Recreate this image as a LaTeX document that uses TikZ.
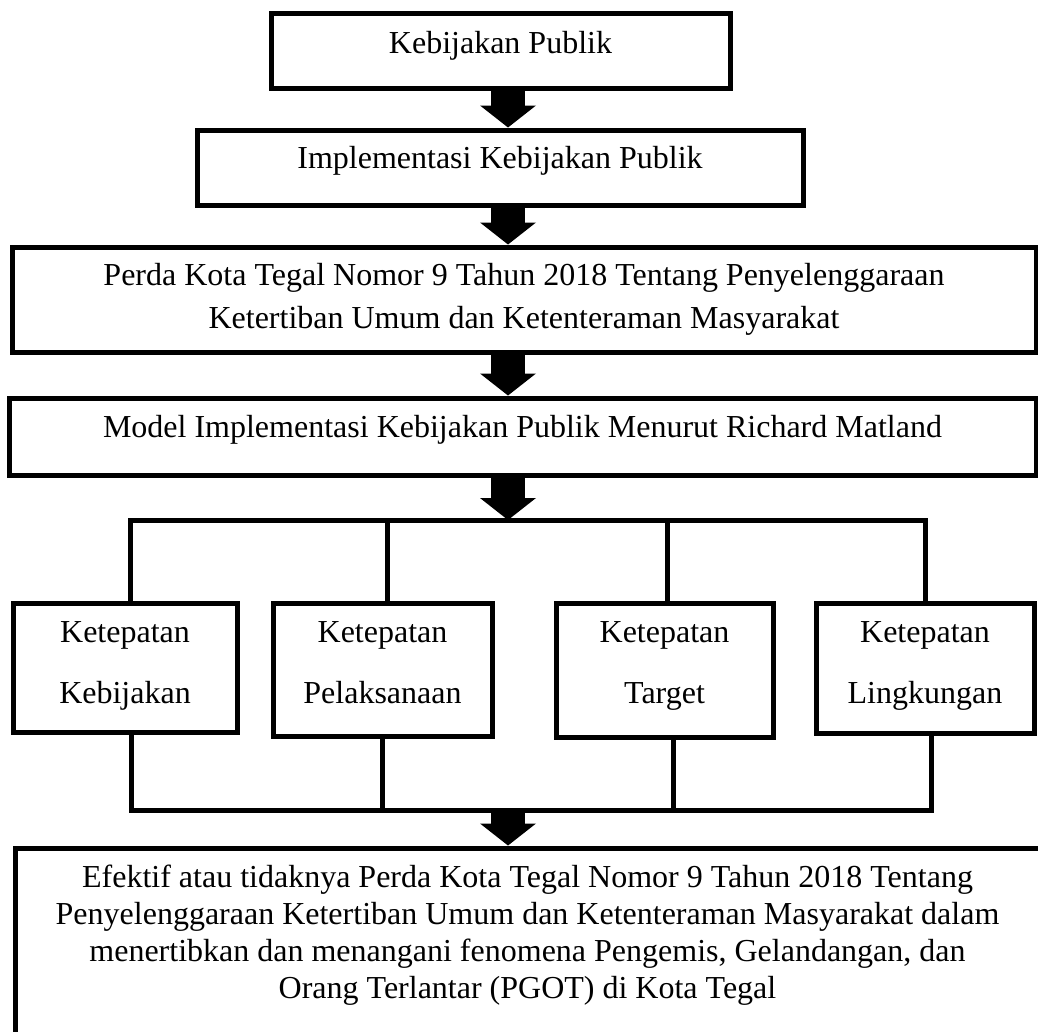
\documentclass[tikz,border=0pt]{standalone}
\usepackage{fontspec}
\setmainfont{Liberation Serif}
\usetikzlibrary{arrows.meta}
\newcommand\boxtext[2]{\parbox[t]{#1}{\centering #2}}
\begin{document}
\begin{tikzpicture}[x=1pt,y=-1pt,
  box/.style={draw, line width=5pt, inner sep=0pt, anchor=base, font=\fontsize{32}{43}\selectfont},
  conn/.style={line width=5pt, line join=miter},
  barrow/.style={line width=34pt, -{Triangle[width=56pt,length=22pt,line width=0pt]}}]
\useasboundingbox (0,0) rectangle (1038,1031);
\clip (0,0) rectangle (1038,1031);
\fill[white] (0,0) rectangle (1038,1031);

\node[box, minimum width=459pt, text height=40pt, text depth=35pt] (b1) at (500.5,53) {\boxtext{459pt}{Kebijakan Publik}};
\node[box, minimum width=606pt, text height=38pt, text depth=37pt] (b2) at (500,168) {\boxtext{606pt}{Implementasi Kebijakan Publik}};
\node[box, minimum width=1024pt, text height=38pt, text depth=67pt] (b3) at (524,285) {\boxtext{1024pt}{Perda Kota Tegal Nomor 9 Tahun 2018 Tentang Penyelenggaraan\\Ketertiban Umum dan Ketenteraman Masyarakat}};
\node[box, minimum width=1027pt, text height=39pt, text depth=38pt] (b4) at (522.5,437) {\boxtext{1027pt}{Model Implementasi Kebijakan Publik Menurut Richard Matland}};

\node[box, font=\fontsize{32}{61}\selectfont, minimum width=224pt, text height=39pt, text depth=90pt] (ka) at (125,642) {\boxtext{224pt}{Ketepatan\\Kebijakan}};
\node[box, font=\fontsize{32}{61}\selectfont, minimum width=219pt, text height=39pt, text depth=94pt] (kb) at (382.5,642) {\boxtext{219pt}{Ketepatan\\Pelaksanaan}};
\node[box, font=\fontsize{32}{61}\selectfont, minimum width=217pt, text height=39pt, text depth=95pt] (kc) at (664.5,642) {\boxtext{217pt}{Ketepatan\\Target}};
\node[box, font=\fontsize{32}{61}\selectfont, minimum width=218pt, text height=39pt, text depth=91pt] (kd) at (925,642) {\boxtext{218pt}{Ketepatan\\Lingkungan}};

\node[box, font=\fontsize{32}{37}\selectfont, minimum width=1025pt, text height=39pt, text depth=149pt] (fin) at (527.5,887) {\boxtext{1025pt}{Efektif atau tidaknya Perda Kota Tegal Nomor 9 Tahun 2018 Tentang\\Penyelenggaraan Ketertiban Umum dan Ketenteraman Masyarakat dalam\\menertibkan dan menangani fenomena Pengemis, Gelandangan, dan\\Orang Terlantar (PGOT) di Kota Tegal}};

\coordinate (ax) at (508,0);
\coordinate (tbar) at (0,520);
\coordinate (bbar) at (0,810);

\coordinate (ta) at ([xshift=5pt]ka.north);
\coordinate (tb) at ([xshift=4.5pt]kb.north);
\coordinate (tc) at ([xshift=2.5pt]kc.north);
\coordinate (td) at (kd.north);
\coordinate (ua) at ([xshift=6pt]ka.south);
\coordinate (ub) at (kb.south);
\coordinate (uc) at ([xshift=8.5pt]kc.south);
\coordinate (ud) at ([xshift=6pt]kd.south);

\draw[conn] (ta) |- (td |- tbar) -- (td);
\draw[conn] (tb) -- (tb |- tbar);
\draw[conn] (tc) -- (tc |- tbar);
\draw[conn] (ua) |- (ud |- bbar) -- (ud);
\draw[conn] (ub) -- (ub |- bbar);
\draw[conn] (uc) -- (uc |- bbar);

\draw[barrow] (b1.south -| ax) -- (b2.north -| ax);
\draw[barrow] (b2.south -| ax) -- (b3.north -| ax);
\draw[barrow] (b3.south -| ax) -- (b4.north -| ax);
\draw[barrow] (b4.south -| ax) -- (tbar -| ax);
\draw[barrow] (bbar -| ax) -- (fin.north -| ax);
\end{tikzpicture}
\end{document}
